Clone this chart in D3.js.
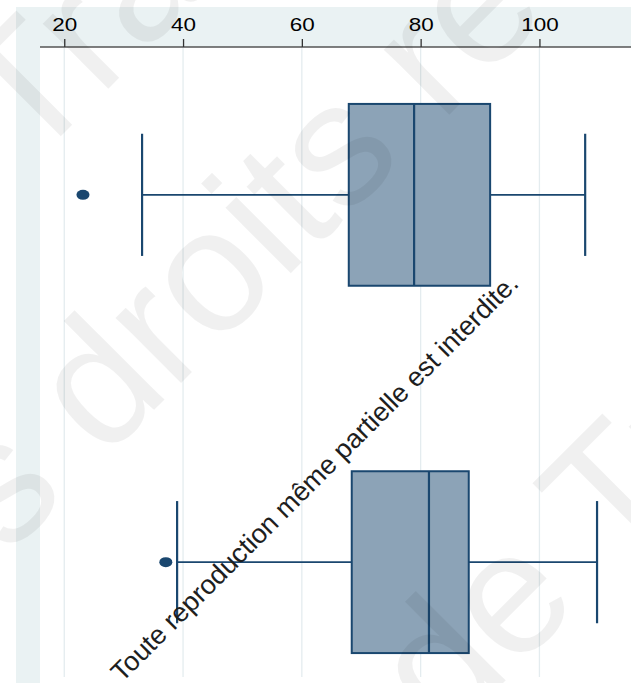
<!DOCTYPE html>
<html>
<head>
<meta charset="utf-8">
<script src="https://cdn.jsdelivr.net/npm/d3@7"></script>
<style>
  html, body { margin: 0; padding: 0; background: #ffffff; }
  svg { display: block; }
</style>
</head>
<body>
<script>
// Two groups, horizontal box plots with outliers
const groups      = ["A", "B"];
const lowWhisker  = [33.1, 39.0];
const q1          = [67.9, 68.4];
const median      = [78.9, 81.4];
const q3          = [91.7, 88.1];
const highWhisker = [107.7, 109.7];
const outliers    = [[23.15], [37.1]];
const tickValues  = [20, 40, 60, 80, 100];

const W = 631, H = 683;
const navy = "#1a476f";
const boxFill = "#8ca3b7";
const regionColor = "#eaf2f3";

const svg = d3.select("body").append("svg")
  .attr("width", W).attr("height", H)
  .style("font-family", "'Liberation Sans', Arial, Helvetica, sans-serif");

// graph region and plot region
const plot = { left: 40, top: 47, right: W, bottom: 677 };
svg.append("rect").attr("x", 16).attr("y", 7).attr("width", W - 16).attr("height", H - 7)
  .attr("fill", regionColor);
svg.append("rect").attr("x", plot.left).attr("y", plot.top)
  .attr("width", W - plot.left).attr("height", H - plot.top).attr("fill", "#ffffff");

const x = d3.scaleLinear().domain([16, 115.5]).range([40.5, 631.5]);
const y = d3.scaleBand().domain(groups).range([47, 710])
  .paddingInner(0.505).paddingOuter(0.155);

// vertical grid
svg.append("g").selectAll("line").data(tickValues).join("line")
  .attr("x1", d => x(d)).attr("x2", d => x(d))
  .attr("y1", plot.top).attr("y2", plot.bottom)
  .attr("stroke", "#e4ecef").attr("stroke-width", 1.3);

// boxes
const rows = groups.map((g, i) => ({
  g, lo: lowWhisker[i], q1: q1[i], med: median[i], q3: q3[i], hi: highWhisker[i], out: outliers[i]
}));

const bw = y.bandwidth();
const capH = bw * 0.672;
const row = svg.append("g").selectAll("g").data(rows).join("g");

row.append("line")
  .attr("x1", d => x(d.lo)).attr("x2", d => x(d.q1))
  .attr("y1", d => y(d.g) + bw / 2).attr("y2", d => y(d.g) + bw / 2)
  .attr("stroke", navy).attr("stroke-width", 1.6);
row.append("line")
  .attr("x1", d => x(d.q3)).attr("x2", d => x(d.hi))
  .attr("y1", d => y(d.g) + bw / 2).attr("y2", d => y(d.g) + bw / 2)
  .attr("stroke", navy).attr("stroke-width", 1.6);
row.append("line")
  .attr("x1", d => x(d.lo)).attr("x2", d => x(d.lo))
  .attr("y1", d => y(d.g) + bw / 2 - capH / 2).attr("y2", d => y(d.g) + bw / 2 + capH / 2)
  .attr("stroke", navy).attr("stroke-width", 2.2);
row.append("line")
  .attr("x1", d => x(d.hi)).attr("x2", d => x(d.hi))
  .attr("y1", d => y(d.g) + bw / 2 - capH / 2).attr("y2", d => y(d.g) + bw / 2 + capH / 2)
  .attr("stroke", navy).attr("stroke-width", 2.2);
row.append("rect")
  .attr("x", d => x(d.q1)).attr("width", d => x(d.q3) - x(d.q1))
  .attr("y", d => y(d.g)).attr("height", bw)
  .attr("fill", boxFill).attr("stroke", navy).attr("stroke-width", 2);
row.append("line")
  .attr("x1", d => x(d.med)).attr("x2", d => x(d.med))
  .attr("y1", d => y(d.g)).attr("y2", d => y(d.g) + bw)
  .attr("stroke", navy).attr("stroke-width", 2.2);
row.selectAll("ellipse").data(d => d.out.map(v => ({ v, g: d.g }))).join("ellipse")
  .attr("cx", d => x(d.v)).attr("cy", d => y(d.g) + bw / 2)
  .attr("rx", 6.5).attr("ry", 5).attr("fill", navy);

// top axis; labels are drawn wide (horizontal stretch of the chart)
const axis = svg.append("g").attr("transform", `translate(0,${plot.top})`)
  .call(d3.axisTop(x).tickValues(tickValues).tickSize(8).tickPadding(8));
axis.select(".domain").attr("d", `M${plot.left},0H${W}`).attr("stroke", "#555555").attr("stroke-width", 1.4);
axis.selectAll(".tick line").attr("stroke", "#333333").attr("stroke-width", 1.3);
axis.selectAll(".tick text").attr("font-size", 17.7).attr("fill", "#000000")
  .attr("font-family", "'Liberation Sans', Arial, sans-serif")
  .attr("transform", "scale(1.27,1)");

// watermark
const markText = ["de Traduction", "Tous droits réservés", "de Traduction"];
const markAt = [[-141, 338], [-192, 756], [445, 741]];
svg.append("g").selectAll("text").data(markText).join("text")
  .attr("transform", (d, i) => `translate(${markAt[i][0]},${markAt[i][1]}) rotate(-45)`)
  .attr("font-size", 175).attr("fill", "rgba(0,0,0,0.06)")
  .text(d => d);

svg.append("text")
  .attr("transform", "translate(321,484) rotate(-45)")
  .attr("text-anchor", "middle").attr("font-size", 27).attr("fill", "#1e1e1e")
  .text("Toute reproduction même partielle est interdite.");
</script>
</body>
</html>
